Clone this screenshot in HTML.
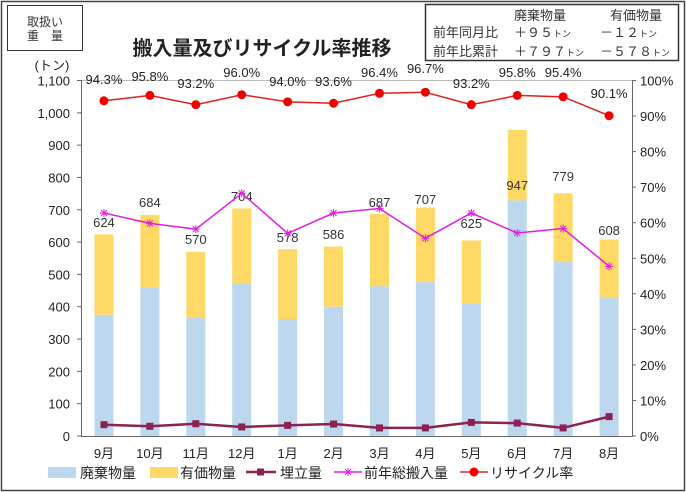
<!DOCTYPE html>
<html><head><meta charset="utf-8"><style>
body{margin:0;background:#fff;}
svg{display:block;font-family:"Liberation Sans","Noto Sans CJK JP",sans-serif;}
</style></head><body>
<svg width="686" height="492" viewBox="0 0 686 492" xmlns="http://www.w3.org/2000/svg">
<rect x="1.5" y="1.5" width="683" height="489" fill="#fff" stroke="#444" stroke-width="1.5"/>
<rect x="7.5" y="5.5" width="75" height="45" fill="#fff" stroke="#333"/>
<text x="45" y="26" font-size="12" text-anchor="middle" fill="#333">取扱い</text>
<text x="45" y="40" font-size="12" text-anchor="middle" fill="#333">重　量</text>
<rect x="425.5" y="4.5" width="253" height="56" fill="#fff" stroke="#333" stroke-width="1.5"/>
<g font-size="13" fill="#333">
<text x="514" y="20">廃棄物量</text><text x="610" y="20">有価物量</text>
<text x="433" y="37">前年同月比</text><text x="514" y="37">＋９５<tspan font-size="9">トン</tspan></text><text x="600" y="37">－１２<tspan font-size="9">トン</tspan></text>
<text x="433" y="56">前年比累計</text><text x="514" y="56">＋７９７<tspan font-size="9">トン</tspan></text><text x="600" y="56">－５７８<tspan font-size="9">トン</tspan></text>
</g>
<text x="262" y="55" font-size="20" font-weight="bold" text-anchor="middle" fill="#222">搬入量及びリサイクル率推移</text>
<text x="52" y="70" font-size="13" text-anchor="middle" fill="#222">(トン)</text>
<line x1="81" y1="80.5" x2="632" y2="80.5" stroke="#bbb"/>
<g id="plot"></g>
<line x1="81.5" y1="80" x2="81.5" y2="436" stroke="#666"/>
<line x1="632.5" y1="80" x2="632.5" y2="436" stroke="#666"/>
<line x1="81" y1="436.5" x2="633" y2="436.5" stroke="#666"/>
<script>
const P=document.getElementById('plot'),NS='http://www.w3.org/2000/svg';
function el(t,a,txt){const e=document.createElementNS(NS,t);for(const k in a)e.setAttribute(k,a[k]);if(txt!==undefined)e.textContent=txt;P.appendChild(e);return e;}
const y0=436,k=(436-80.5)/1100,pk=(436-80.5)/100;
const cx=i=>81+22.96+45.92*i;
const tot=[624,684,570,704,578,586,687,707,605,947,751,608];
const blue=[375,460,365,472,362,400,463,476,410,729,538,427];
const lbl=['624','684','570','704','578','586','687','707','625','947','779','608'];
const ly=[222,202,239,196,237,234,202,199,223,185,176,230];
const mag=[690,658,640,751,627,690,704,612,690,628,642,525];
const land=[35,30,38,28,33,37,25,25,42,40,25,60];
const rc=[94.3,95.8,93.2,96.0,94.0,93.6,96.4,96.7,93.2,95.8,95.4,90.1];
const rly=[87,84,91,80,89,89,80,76,91,80,80,101];
const mon=['9月','10月','11月','12月','1月','2月','3月','4月','5月','6月','7月','8月'];
for(let v=0;v<=1100;v+=100){const y=y0-v*k;el('line',{x1:77,y1:y,x2:81,y2:y,stroke:'#666'});el('text',{x:70,y:y+5,'font-size':13,'text-anchor':'end',fill:'#222'},v>=1000?v.toLocaleString('en-US'):String(v));}
for(let p=0;p<=100;p+=10){const y=y0-p*pk;el('line',{x1:632,y1:y,x2:636,y2:y,stroke:'#666'});el('text',{x:640,y:y+5,'font-size':13,fill:'#222'},p+'%');}
for(let i=0;i<12;i++){const x=cx(i)-9.5;
el('rect',{x:x,y:y0-tot[i]*k,width:19,height:(tot[i]-blue[i])*k,fill:'#FFD966'});
el('rect',{x:x,y:y0-blue[i]*k,width:19,height:blue[i]*k,fill:'#BDD7EE'});
el('text',{x:cx(i),y:ly[i]+5,'font-size':13,'text-anchor':'middle',fill:'#333'},lbl[i]);
el('text',{x:cx(i),y:458,'font-size':13,'text-anchor':'middle',fill:'#222'},mon[i]);}
const pts=a=>a.map((v,i)=>cx(i)+','+v).join(' ');
el('polyline',{points:pts(mag.map(v=>y0-v*k)),fill:'none',stroke:'#E020E0','stroke-width':1.5});
mag.forEach((v,i)=>{const x=cx(i),y=y0-v*k;el('path',{d:`M${x-4} ${y}h8M${x} ${y-4}v8M${x-3} ${y-3}l6 6M${x-3} ${y+3}l6 -6`,stroke:'#E020E0','stroke-width':1});});
el('polyline',{points:pts(land.map(v=>y0-v*k)),fill:'none',stroke:'#8B2252','stroke-width':2.5});
land.forEach((v,i)=>el('rect',{x:cx(i)-3.5,y:y0-v*k-3.5,width:7,height:7,fill:'#8B2252'}));
el('polyline',{points:pts(rc.map(v=>y0-v*pk)),fill:'none',stroke:'#E02020','stroke-width':1.5});
rc.forEach((v,i)=>{el('circle',{cx:cx(i),cy:y0-v*pk,r:4.5,fill:'#F00000'});el('text',{x:cx(i),y:rly[i]-3,'font-size':13,'text-anchor':'middle',fill:'#222'},v.toFixed(1)+'%');});
</script>
<g font-size="14" fill="#222">
<rect x="48" y="467" width="28" height="11" fill="#BDD7EE"/><text x="80" y="478">廃棄物量</text>
<rect x="150" y="467" width="28" height="11" fill="#FFD966"/><text x="180" y="478">有価物量</text>
<line x1="246" y1="472" x2="276" y2="472" stroke="#8B2252" stroke-width="2.5"/><rect x="257" y="468.5" width="7" height="7" fill="#8B2252"/><text x="280" y="478">埋立量</text>
<line x1="334" y1="472" x2="362" y2="472" stroke="#E020E0" stroke-width="1.5"/><path d="M344 472h8M348 468v8M345 469l6 6M345 475l6 -6" stroke="#E020E0"/><text x="364" y="478">前年総搬入量</text>
<line x1="460" y1="472" x2="488" y2="472" stroke="#E02020" stroke-width="1.5"/><circle cx="474" cy="472" r="4.5" fill="#F00000"/><text x="490" y="478">リサイクル率</text>
</g>
</svg>
</body></html>
